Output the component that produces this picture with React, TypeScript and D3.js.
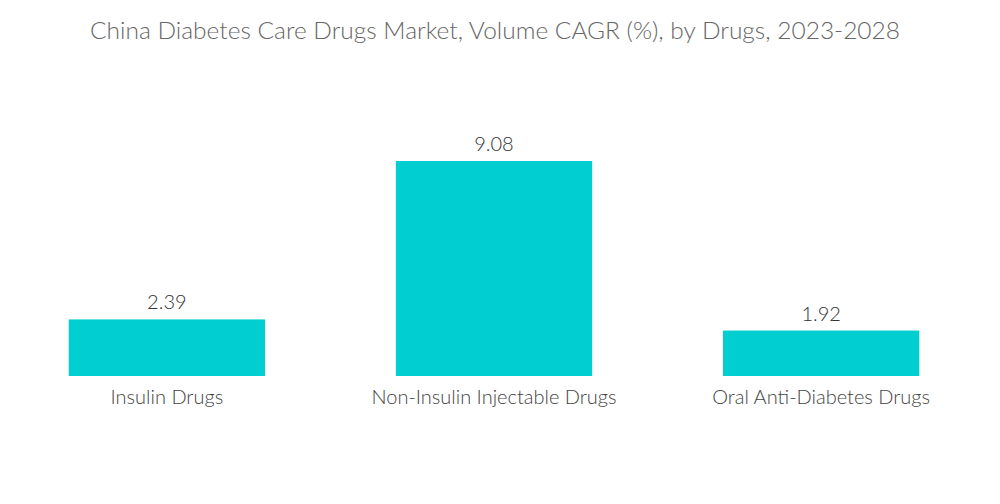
import React from "react";
import * as d3 from "d3";

const categories = ["Insulin Drugs", "Non-Insulin Injectable Drugs", "Oral Anti-Diabetes Drugs"];
const values = [2.39, 9.08, 1.92];
const valueLabels = ["2.39", "9.08", "1.92"];
const title = "China Diabetes Care Drugs Market, Volume CAGR (%), by Drugs, 2023-2028";

const W = 1000;
const H = 504;
const baseY = 376;
const topY = 161;

export default function App() {
  const x = d3.scaleBand<string>().domain(categories).range([36, 952]).paddingInner(0.4).paddingOuter(0.1);
  const y = d3.scaleLinear().domain([0, 9.08]).range([baseY, topY]);
  const font = "Lato, 'Open Sans', sans-serif";
  return (
    <div style={{ position: "absolute", left: 0, top: 0 }}>
      <svg width={W} height={H} style={{ display: "block", background: "#fff" }}>
        <text x={495} y={39} textAnchor="middle" fontFamily={font} fontWeight={300} fontSize={24} textLength={810} lengthAdjust="spacingAndGlyphs" fill="#666">
          {title}
        </text>
        {categories.map((c, i) => (
          <g key={c}>
            <rect x={x(c)} y={y(values[i])} width={x.bandwidth()} height={baseY - y(values[i])} fill="#00CED1" />
            <text x={(x(c) ?? 0) + x.bandwidth() / 2} y={y(values[i]) - 10} textAnchor="middle" fontFamily={font} fontWeight={300} fontSize={20} fill="#333">
              {valueLabels[i]}
            </text>
            <text x={(x(c) ?? 0) + x.bandwidth() / 2} y={404} textAnchor="middle" fontFamily={font} fontWeight={300} fontSize={20} fill="#444">
              {c}
            </text>
          </g>
        ))}
      </svg>
    </div>
  );
}
